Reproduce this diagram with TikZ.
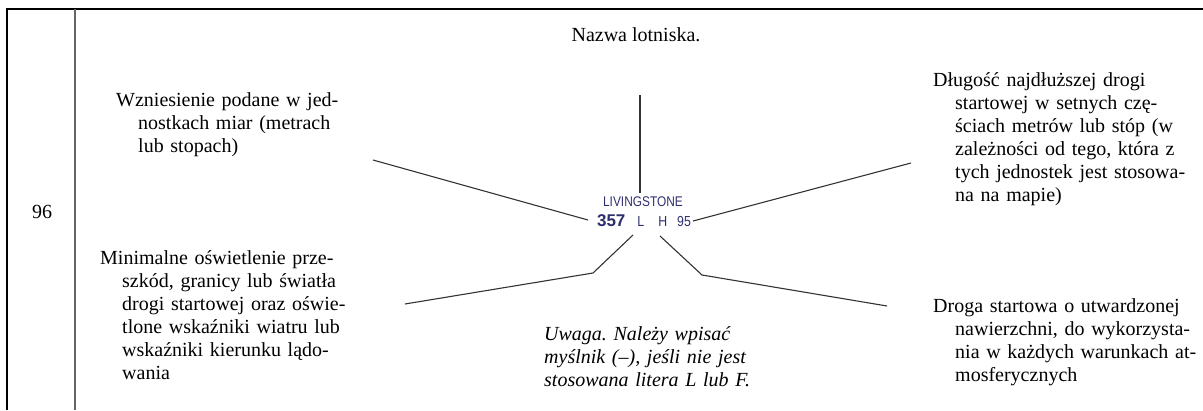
\documentclass[tikz,border=0pt]{standalone}
\usepackage{fontspec}
\usepackage{graphicx}
\setmainfont{Liberation Serif}
\newfontfamily\mapfont{Liberation Sans}
\usetikzlibrary{positioning}
\definecolor{mapblue}{HTML}{2E2E6E}
\frenchspacing
\newcommand{\hang}{\hspace*{22pt}}
\newcommand{\narrow}[1]{\scalebox{0.85}[1]{#1}}

\begin{document}
\begin{tikzpicture}[
  x=1pt, y=-1pt,
  note/.style={anchor=north west, inner sep=0pt, text width=320pt, align=left,
    font=\fontsize{20}{23}\selectfont},
  plain/.style={inner sep=0pt, font=\fontsize{20}{23}\selectfont},
  sign/.style={inner sep=0pt, font=\mapfont\fontsize{14.5}{15}\selectfont, text=mapblue},
  leader/.style={draw=black!80, line width=1.1pt},
  frame/.style={draw=black, line width=1.3pt}
]
  \useasboundingbox (0,0) rectangle (1203,410);

  % table frame
  \coordinate (tl) at (7,9);
  \coordinate (tr) at (1203,9);
  \coordinate (bl) at (7,410);
  \coordinate (ct) at (75,9);
  \coordinate (cb) at (75,410);
  \draw[frame] (bl) -- (tl) -- (tr);
  \draw[draw=black!60, line width=1.5pt] (ct) -- (cb);
  \node[plain] (num) at (42,212) {96};

  % map symbol
  \node[sign, font=\mapfont\fontsize{14}{15}\selectfont] (name) at (643,202) {\narrow{LIVINGSTONE}};
  \node[sign, anchor=base] (data) at (644,226)
    {{\fontsize{17}{17}\selectfont\bfseries 357}\hspace*{12pt}\narrow{L}\hspace*{14pt}\narrow{H}\hspace*{10pt}\narrow{95}};

  % labels
  \node[plain] (title) at (636,35) {Nazwa lotniska.};
  \node[note] (elev) at (116,92) {Wzniesienie podane w jed-\\\hang nostkach miar (metrach\\\hang lub stopach)};
  \node[note] (light) at (100,250) {Minimalne oświetlenie prze-\\\hang szkód, granicy lub światła\\\hang drogi startowej oraz oświe-\\\hang tlone wskaźniki wiatru lub\\\hang wskaźniki kierunku lądo-\\\hang wania};
  \node[note] (length) at (933,72) {Długość najdłuższej drogi\\\hang startowej w setnych czę-\\\hang ściach metrów lub stóp (w\\\hang zależności od tego, która z\\\hang tych jednostek jest stosowa-\\\hang na na mapie)};
  \node[note] (paved) at (933,298) {Droga startowa o utwardzonej\\\hang nawierzchni, do wykorzysta-\\\hang nia w każdych warunkach at-\\\hang mosferycznych};
  \node[note, font=\fontsize{20}{23}\selectfont\itshape] (remark) at (544,326) {Uwaga. Należy wpisać\\myślnik (–), jeśli nie jest\\stosowana litera L lub F.};

  % leader lines
  \coordinate (a1) at (640,95);   \coordinate (a2) at (640,193);
  \coordinate (b1) at (373,160);  \coordinate (b2) at (588,220);
  \coordinate (c1) at (693,221);  \coordinate (c2) at (911,163);
  \coordinate (d1) at (633,235);  \coordinate (d2) at (593,273);  \coordinate (d3) at (405,304);
  \coordinate (e1) at (660,236);  \coordinate (e2) at (702,275);  \coordinate (e3) at (887,306);
  \draw[leader] (a1) -- (a2);
  \draw[leader] (b1) -- (b2);
  \draw[leader] (c1) -- (c2);
  \draw[leader] (d1) -- (d2) -- (d3);
  \draw[leader] (e1) -- (e2) -- (e3);
\end{tikzpicture}
\end{document}
